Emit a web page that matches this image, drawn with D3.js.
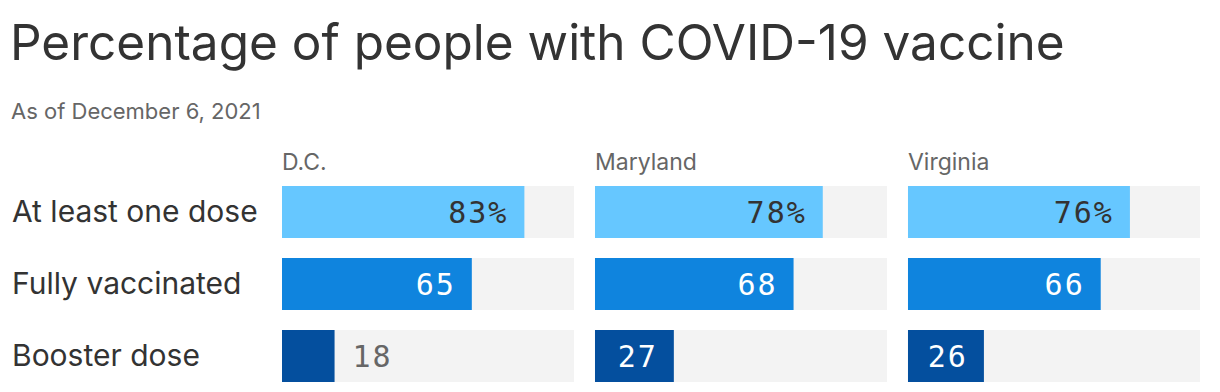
<!DOCTYPE html>
<html>
<head>
<meta charset="utf-8">
<script src="https://cdn.jsdelivr.net/npm/d3@7"></script>
<style>
  html, body { margin: 0; padding: 0; background: #fff; }
  svg { display: block; }
</style>
</head>
<body>
<svg id="chart" width="1220" height="392"></svg>
<script>
const title = "Percentage of people with COVID-19 vaccine";
const subtitle = "As of December 6, 2021";
const regions = ["D.C.", "Maryland", "Virginia"];
const measures = ["At least one dose", "Fully vaccinated", "Booster dose"];
const atLeastOne = [83, 78, 76];
const fully = [65, 68, 66];
const booster = [18, 27, 26];
const seriesValues = [atLeastOne, fully, booster];
const colors = ["#66c7ff", "#0f84de", "#044f9e"];
const labelColors = ["#333333", "#ffffff", "#ffffff"];

const svg = d3.select("#chart");
const sans = "Inter, 'Liberation Sans', Arial, sans-serif";
const mono = "'DejaVu Sans Mono', monospace";

svg.append("text").attr("x", 10).attr("y", 60)
  .attr("font-family", sans).attr("font-size", 49.5).attr("fill", "#333")
  .text(title);
svg.append("text").attr("x", 11).attr("y", 119)
  .attr("font-family", sans).attr("font-size", 22).attr("fill", "#666")
  .text(subtitle);

const xPanel = d3.scaleBand().domain(regions).range([282, 1200]).paddingInner(0.067);
const bw = xPanel.bandwidth();
const x = d3.scaleLinear().domain([0, 100]).range([0, bw]);
const y = d3.scaleBand().domain(measures).range([186, 382]).paddingInner(20 / 72);
const bh = y.bandwidth();

// row labels
svg.selectAll("text.row").data(measures).join("text")
  .attr("class", "row")
  .attr("x", 12).attr("y", d => y(d) + bh / 2 + 10)
  .attr("font-family", sans).attr("font-size", 30).attr("fill", "#333")
  .text(d => d);

// panel headers
svg.selectAll("text.head").data(regions).join("text")
  .attr("class", "head")
  .attr("x", d => xPanel(d)).attr("y", 170)
  .attr("font-family", sans).attr("font-size", 23).attr("fill", "#666")
  .text(d => d);

regions.forEach((r, ri) => {
  const g = svg.append("g").attr("transform", `translate(${xPanel(r)},0)`);
  measures.forEach((m, mi) => {
    const v = seriesValues[mi][ri];
    g.append("rect").attr("x", 0).attr("y", y(m)).attr("width", bw).attr("height", bh).attr("fill", "#f3f3f3");
    g.append("rect").attr("x", 0).attr("y", y(m)).attr("width", x(v)).attr("height", bh).attr("fill", colors[mi]);
    const label = mi === 0 ? v + "%" : String(v);
    const inside = x(v) > 70;
    g.append("text")
      .attr("x", inside ? x(v) - 16 : x(v) + 18)
      .attr("y", y(m) + bh / 2 + 11)
      .attr("text-anchor", inside ? "end" : "start")
      .attr("font-family", mono).attr("font-size", 30)
      .attr("letter-spacing", 2)
      .attr("fill", inside ? labelColors[mi] : "#666")
      .text(label);
  });
});
</script>
</body>
</html>
